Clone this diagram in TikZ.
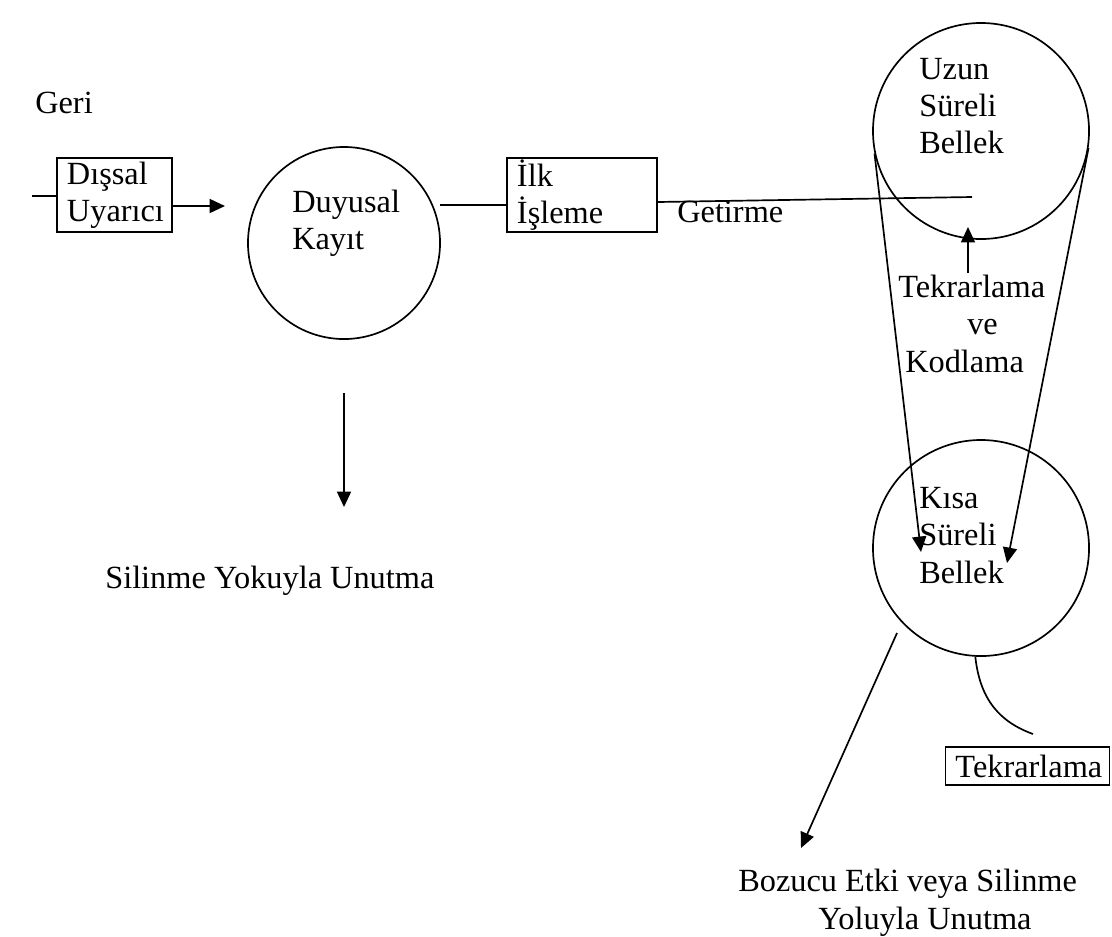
\documentclass[tikz,border=0pt]{standalone}
\usepackage{fontspec}
\setmainfont{Liberation Serif}
\usetikzlibrary{arrows.meta,calc,positioning}

\begin{document}
\begin{tikzpicture}[x=0.025cm,y=-0.025cm,
	yazi/.style={inner sep=0pt, align=left, font=\fontsize{23}{26.5}\selectfont},
	kutu/.style={draw, line width=1.2pt, inner xsep=0.25cm, inner ysep=0pt, align=left,
		font=\fontsize{23}{26.5}\selectfont},
	daire/.style={draw, circle, line width=1.2pt, inner sep=0pt},
	cizgi/.style={line width=1.2pt},
	ok/.style={line width=1.2pt, -{Triangle[length=11pt,width=10pt]}}]
	\useasboundingbox (0,0) rectangle (1112,936);
	% kutular ve daireler
	\node[kutu, text width=2.375cm, minimum height=1.85cm] (dissal) at (114.5,195) {Dışsal\\Uyarıcı};
	\node[kutu, text width=3.25cm, minimum height=1.85cm] (ilk) at (582,195) {İlk\\İşleme};
	\node[kutu, text width=3.6cm, minimum height=0.95cm] (tekrar) at (1027.5,766) {Tekrarlama};
	\node[daire, minimum size=4.8cm] (duyusal) at (344,243) {};
	\node[daire, minimum size=5.4cm] (uzun) at (981,131) {};
	\node[daire, minimum size=5.4cm] (kisa) at (981,548) {};
	% yazilar
	\node[yazi, anchor=base west] (geri) at (35,113) {Geri};
	\node[yazi, anchor=north west] (duyusalyazi) at (292,190) {Duyusal\\Kayıt};
	\node[yazi, anchor=north west] (uzunyazi) at (919,58) {Uzun\\Süreli\\Bellek};
	\node[yazi, anchor=north west] (kisayazi) at (919,487) {Kısa\\Süreli\\Bellek};
	\node[yazi, anchor=base west] (getirme) at (677,222) {Getirme};
	\node[yazi, anchor=north west] (kodlama) at (898,275) {Tekrarlama\\\hspace*{1.725cm}ve\\\hspace*{0.175cm}Kodlama};
	\node[yazi, anchor=base west] (silinme) at (105,588) {Silinme Yokuyla Unutma};
	\node[yazi, anchor=north west] (bozucu) at (738,869) {Bozucu Etki veya Silinme\\\hspace*{2cm}Yoluyla Unutma};
	% bos uclar
	\coordinate (giris) at (32,196);
	\coordinate (dissalok) at (225,206);
	\coordinate (duyusalcik) at (440,205);
	\coordinate (getirmeuc) at (972,197);
	\coordinate (tekalt) at (968,273);
	\coordinate (silinmeust) at (344,393);
	\coordinate (silinmeok) at (344,507);
	\coordinate (kisasol) at ($(kisa.center)+(-60,4)$);
	\coordinate (kisasag) at ($(kisa.center)+(26,15)$);
	\coordinate (kisacik) at ($(kisa.center)+(-84,85)$);
	\coordinate (bozucuok) at (801,848);
	\coordinate (tekrarust) at (1033,734);
	% baglantilar
	\draw[cizgi] (giris) -- (giris -| dissal.west);
	\draw[ok] (dissalok -| dissal.east) -- (dissalok);
	\draw[cizgi] (duyusalcik) -- (duyusalcik -| ilk.west);
	\draw[cizgi] ($(ilk.east)+(0,7)$) -- (getirmeuc);
	\draw[ok] (tekalt) -- ++(0,-46);
	\draw[ok] (uzun.192) -- (kisasol);
	\draw[ok] (uzun.351) -- (kisasag);
	\draw[ok] (silinmeust) -- (silinmeok);
	\draw[ok] (kisacik) -- (bozucuok);
	\draw[cizgi] (kisa.267) .. controls (980,700) and (1000,722) .. (tekrarust);
\end{tikzpicture}
\end{document}
